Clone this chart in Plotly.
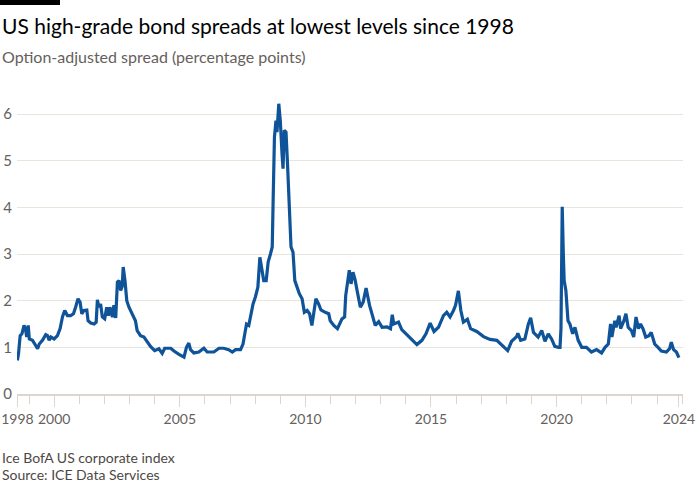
import plotly.graph_objects as go

# ---- data ----
dates = [
    "1998-07-16", "1998-08-01", "1998-08-25", "1998-09-20", "1998-10-20", "1998-11-10", "1998-11-28", "1998-12-20",
    "1999-01-05", "1999-02-20", "1999-04-08", "1999-05-05", "1999-05-30", "1999-07-15", "1999-09-01", "1999-09-27",
    "1999-10-20", "1999-11-15", "2000-01-01", "2000-02-18", "2000-03-28", "2000-05-01", "2000-06-03", "2000-07-12",
    "2000-08-28", "2000-10-08", "2000-11-10", "2000-12-13", "2001-01-12", "2001-02-06", "2001-03-10", "2001-04-20",
    "2001-05-08", "2001-06-17", "2001-08-04", "2001-09-03", "2001-09-21", "2001-10-12", "2001-11-06", "2001-12-02",
    "2002-01-05", "2002-02-03", "2002-02-28", "2002-03-22", "2002-04-27", "2002-05-19", "2002-06-14", "2002-07-09",
    "2002-08-01", "2002-08-25", "2002-09-16", "2002-10-01", "2002-10-27", "2002-11-22", "2002-12-24", "2003-02-10",
    "2003-03-28", "2003-04-22", "2003-06-10", "2003-07-30", "2003-09-16", "2003-11-02", "2004-01-01", "2004-03-03",
    "2004-04-20", "2004-05-26", "2004-08-22", "2004-10-08", "2004-12-20", "2005-03-03", "2005-04-08", "2005-05-12",
    "2005-06-06", "2005-07-24", "2005-10-05", "2005-12-17", "2006-02-03", "2006-05-12", "2006-07-24", "2006-10-01",
    "2006-12-13", "2007-02-03", "2007-03-22", "2007-06-03", "2007-07-09", "2007-08-04", "2007-08-29", "2007-10-01",
    "2007-11-03", "2007-12-02", "2008-01-05", "2008-02-10", "2008-03-10", "2008-04-05", "2008-05-05", "2008-06-10",
    "2008-07-09", "2008-08-11", "2008-09-06", "2008-09-20", "2008-10-08", "2008-10-30", "2008-11-14", "2008-12-10",
    "2009-01-01", "2009-01-26", "2009-02-10", "2009-02-28", "2009-03-25", "2009-04-16", "2009-05-08", "2009-06-06",
    "2009-07-05", "2009-07-31", "2009-09-02", "2009-10-05", "2009-11-14", "2009-12-17", "2010-01-26", "2010-03-03",
    "2010-04-05", "2010-05-01", "2010-06-03", "2010-07-12", "2010-08-15", "2010-10-16", "2010-12-06", "2010-12-28",
    "2011-02-18", "2011-04-12", "2011-06-17", "2011-07-25", "2011-08-10", "2011-10-01", "2011-10-27", "2011-11-24",
    "2011-12-24", "2012-01-25", "2012-03-10", "2012-04-20", "2012-06-01", "2012-07-22", "2012-08-25", "2012-10-12",
    "2012-12-02", "2013-01-20", "2013-04-01", "2013-05-22", "2013-06-17", "2013-07-09", "2013-09-16", "2013-11-02",
    "2014-01-15", "2014-03-28", "2014-06-10", "2014-08-22", "2014-10-20", "2014-12-20", "2015-02-14", "2015-04-20",
    "2015-07-01", "2015-08-18", "2015-10-05", "2015-11-24", "2015-12-24", "2016-02-03", "2016-03-10", "2016-04-16",
    "2016-06-14", "2016-07-30", "2016-10-27", "2017-02-03", "2017-05-08", "2017-08-15", "2017-11-07", "2018-01-20",
    "2018-03-18", "2018-05-30", "2018-06-17", "2018-07-27", "2018-09-27", "2018-11-17", "2018-12-20", "2019-01-30",
    "2019-04-08", "2019-05-30", "2019-07-16", "2019-09-02", "2019-10-20", "2019-12-06", "2020-01-26", "2020-02-20",
    "2020-03-05", "2020-03-12", "2020-03-23", "2020-04-08", "2020-04-20", "2020-05-15", "2020-06-15", "2020-07-12",
    "2020-08-22", "2020-09-24", "2020-11-10", "2021-01-01", "2021-03-10", "2021-05-22", "2021-08-04", "2021-10-16",
    "2021-12-06", "2022-01-22", "2022-02-24", "2022-03-15", "2022-04-27", "2022-05-15", "2022-06-28", "2022-07-20",
    "2022-09-06", "2022-10-05", "2022-11-07", "2022-12-24", "2023-01-26", "2023-03-01", "2023-04-05", "2023-05-05",
    "2023-06-10", "2023-07-20", "2023-09-06", "2023-10-08", "2023-11-28", "2024-01-15", "2024-03-03", "2024-05-15",
    "2024-07-01", "2024-07-26", "2024-08-28", "2024-10-08", "2024-11-14",
]
spread = [
    0.72, 0.86, 1.25, 1.29, 1.47, 1.40, 1.22, 1.47,
    1.18, 1.15, 1.04, 0.97, 1.07, 1.15, 1.27, 1.25,
    1.15, 1.22, 1.18, 1.25, 1.40, 1.65, 1.79, 1.68,
    1.68, 1.72, 1.87, 2.04, 1.97, 1.72, 1.79, 1.80,
    1.57, 1.52, 1.50, 1.54, 2.02, 1.86, 1.93, 1.65,
    1.61, 1.86, 1.68, 1.86, 1.65, 1.90, 1.63, 2.40,
    2.43, 2.22, 2.30, 2.72, 2.43, 2.00, 1.86, 1.72,
    1.57, 1.36, 1.25, 1.22, 1.11, 1.02, 0.93, 0.97,
    0.87, 0.98, 0.98, 0.92, 0.85, 0.79, 1.00, 1.09,
    0.95, 0.88, 0.90, 0.98, 0.90, 0.90, 0.98, 0.98,
    0.95, 0.90, 0.95, 0.95, 1.07, 1.29, 1.50, 1.47,
    1.72, 1.93, 2.08, 2.29, 2.93, 2.65, 2.43, 2.43,
    2.83, 3.00, 3.15, 4.22, 5.50, 5.86, 5.61, 6.22,
    5.86, 5.15, 4.83, 5.65, 5.61, 4.93, 4.08, 3.15,
    3.04, 2.43, 2.29, 2.15, 2.04, 1.75, 1.79, 1.72,
    1.47, 1.72, 2.04, 1.93, 1.80, 1.75, 1.72, 1.57,
    1.47, 1.40, 1.61, 1.65, 2.11, 2.65, 2.36, 2.61,
    2.45, 2.20, 1.86, 1.97, 2.27, 1.90, 1.72, 1.47,
    1.55, 1.43, 1.44, 1.40, 1.70, 1.50, 1.54, 1.38,
    1.27, 1.16, 1.06, 1.15, 1.29, 1.52, 1.34, 1.43,
    1.68, 1.75, 1.65, 1.79, 1.90, 2.21, 1.79, 1.54,
    1.60, 1.40, 1.34, 1.23, 1.17, 1.15, 1.04, 0.93,
    1.13, 1.23, 1.30, 1.15, 1.18, 1.50, 1.63, 1.32,
    1.22, 1.36, 1.13, 1.29, 1.18, 1.02, 1.00, 1.00,
    1.40, 2.43, 4.01, 3.00, 2.43, 2.22, 1.57, 1.50,
    1.29, 1.43, 1.15, 1.00, 1.00, 0.90, 0.95, 0.88,
    1.00, 1.07, 1.50, 1.22, 1.57, 1.43, 1.68, 1.40,
    1.57, 1.72, 1.43, 1.36, 1.22, 1.65, 1.40, 1.50,
    1.40, 1.22, 1.25, 1.32, 1.07, 1.00, 0.92, 0.90,
    0.97, 1.11, 0.95, 0.90, 0.78,
]

x_tick_vals = ["1998-07-16", "2000-01-01", "2005-01-01", "2010-01-01", "2015-01-01", "2020-01-01", "2024-11-14"]
x_tick_text = ["1998", "2000", "2005", "2010", "2015", "2020", "2024"]
y_tick_vals = [0, 1, 2, 3, 4, 5, 6]

title = "US high-grade bond spreads at lowest levels since 1998"
subtitle = "Option-adjusted spread (percentage points)"
note = "Ice BofA US corporate index"
source = "Source: ICE Data Services"

# ---- figure ----
FONT = "Lato, 'Open Sans', sans-serif"
GRID = "#ebe4dd"
AXIS = "#ddd6cf"
TICKFONT = "#66605c"

W, H = 700, 500
ML, MR, MT, MB = 17, 17, 100, 106
PW, PH = W - ML - MR, H - MT - MB


def px(xp):
    return (xp - ML) / PW


def py(yp):
    return (H - MB - yp) / PH


fig = go.Figure()
fig.add_trace(go.Scatter(
    x=dates, y=spread, mode="lines",
    line=dict(color="#0f5499", width=3.2),
    hoverinfo="skip", showlegend=False,
))

fig.update_layout(
    width=W, height=H,
    margin=dict(l=ML, r=MR, t=MT, b=MB, autoexpand=False),
    paper_bgcolor="white", plot_bgcolor="white",
    font=dict(family=FONT, color=TICKFONT),
    xaxis=dict(
        type="date",
        range=["1998-07-10", "2025-01-12"],
        tickvals=x_tick_vals, ticktext=x_tick_text,
        tickangle=0, automargin=False,
        showgrid=False, zeroline=False,
        showline=True, linecolor=AXIS, linewidth=2,
        ticks="outside", ticklen=11, tickcolor=AXIS, tickwidth=1,
        tickfont=dict(size=14, color=TICKFONT, family=FONT),
        minor=dict(dtick="M12", tick0="2000-01-01", ticks="outside", ticklen=8,
                   tickcolor=AXIS, tickwidth=1, showgrid=False),
    ),
    yaxis=dict(
        range=[0, 6.3],
        tickvals=y_tick_vals, automargin=False,
        showgrid=True, gridcolor=GRID, gridwidth=1,
        zeroline=False, showline=False, ticks="",
        tickfont=dict(size=15, color=TICKFONT, family=FONT),
        ticklabelstandoff=4,
    ),
)

fig.add_shape(type="rect", xref="paper", yref="paper",
              x0=px(0), x1=px(60), y0=py(5), y1=py(0),
              fillcolor="black", line=dict(width=0))

fig.add_annotation(text=title, xref="paper", yref="paper", x=px(0), y=py(25),
                   xanchor="left", yanchor="middle", showarrow=False,
                   font=dict(size=21, color="#000000", family=FONT))
fig.add_annotation(text=subtitle, xref="paper", yref="paper", x=px(0), y=py(57),
                   xanchor="left", yanchor="middle", showarrow=False,
                   font=dict(size=16, color=TICKFONT, family=FONT))
fig.add_annotation(text=note, xref="paper", yref="paper", x=px(0), y=py(457),
                   xanchor="left", yanchor="middle", showarrow=False,
                   font=dict(size=14, color="#4d4845", family=FONT))
fig.add_annotation(text=source, xref="paper", yref="paper", x=px(0), y=py(474),
                   xanchor="left", yanchor="middle", showarrow=False,
                   font=dict(size=14, color="#4d4845", family=FONT))

fig.write_html("out.html", config={"displayModeBar": False},
               post_script="document.body.style.margin='0';")
